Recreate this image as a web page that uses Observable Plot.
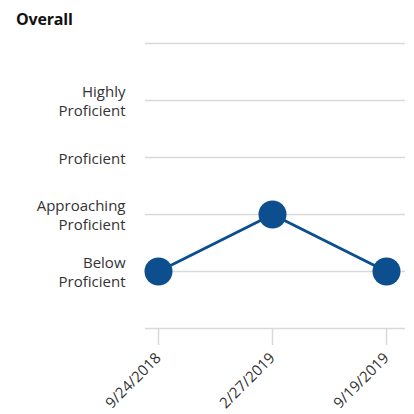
<!DOCTYPE html>
<html>
<head>
<meta charset="utf-8">
<script src="https://cdn.jsdelivr.net/npm/d3@7"></script>
<script src="https://cdn.jsdelivr.net/npm/@observablehq/plot@0.6"></script>
<style>
  body { margin: 0; background: #fff; }
  #wrap { position: relative; width: 414px; height: 414px; }
  #title { position: absolute; left: 16px; top: 8px; font: 700 16px "Open Sans", sans-serif; color: #111; letter-spacing: -0.2px; }
</style>
</head>
<body>
<div id="wrap"><div id="title">Overall</div></div>
<script>
const dates = ["9/24/2018", "2/27/2019", "9/19/2019"];
const levels = ["Below Proficient", "Approaching Proficient", "Proficient", "Highly Proficient"];
const levelLabels = ["Below\nProficient", "Approaching\nProficient", "Proficient", "Highly\nProficient"];
const results = ["Below Proficient", "Approaching Proficient", "Below Proficient"];

const data = dates.map((d, i) => ({date: d, level: levels.indexOf(results[i]) + 1}));
const blue = "#0d4f8e";
const grid = "#d9d9d9";

const chart = Plot.plot({
  width: 414,
  height: 414,
  marginTop: 43,
  marginBottom: 86,
  marginLeft: 145,
  marginRight: 9,
  style: {fontFamily: "Open Sans, sans-serif", fontSize: "15px", color: "#333", background: "transparent"},
  x: {type: "point", domain: dates, insetLeft: 12, insetRight: 19, padding: 0, label: null},
  y: {domain: [0, 5], label: null},
  marks: [
    Plot.ruleY([1, 2, 3, 4, 5], {stroke: grid, strokeWidth: 1.5}),
    Plot.ruleY([0], {stroke: grid, strokeWidth: 1.5}),
    Plot.axisY({ticks: [1, 2, 3, 4], tickFormat: d => levelLabels[d - 1], tickSize: 0, tickPadding: 20, lineHeight: 1.25, fontSize: 15}),
    Plot.axisX({tickSize: 17, tickRotate: -45, tickPadding: 10, stroke: grid, strokeWidth: 1.5, fontSize: 15}),
    Plot.line(data, {x: "date", y: "level", stroke: blue, strokeWidth: 3}),
    Plot.dot(data, {x: "date", y: "level", r: 14, fill: blue, stroke: "none"})
  ]
});
document.getElementById("wrap").appendChild(chart);
</script>
</body>
</html>
